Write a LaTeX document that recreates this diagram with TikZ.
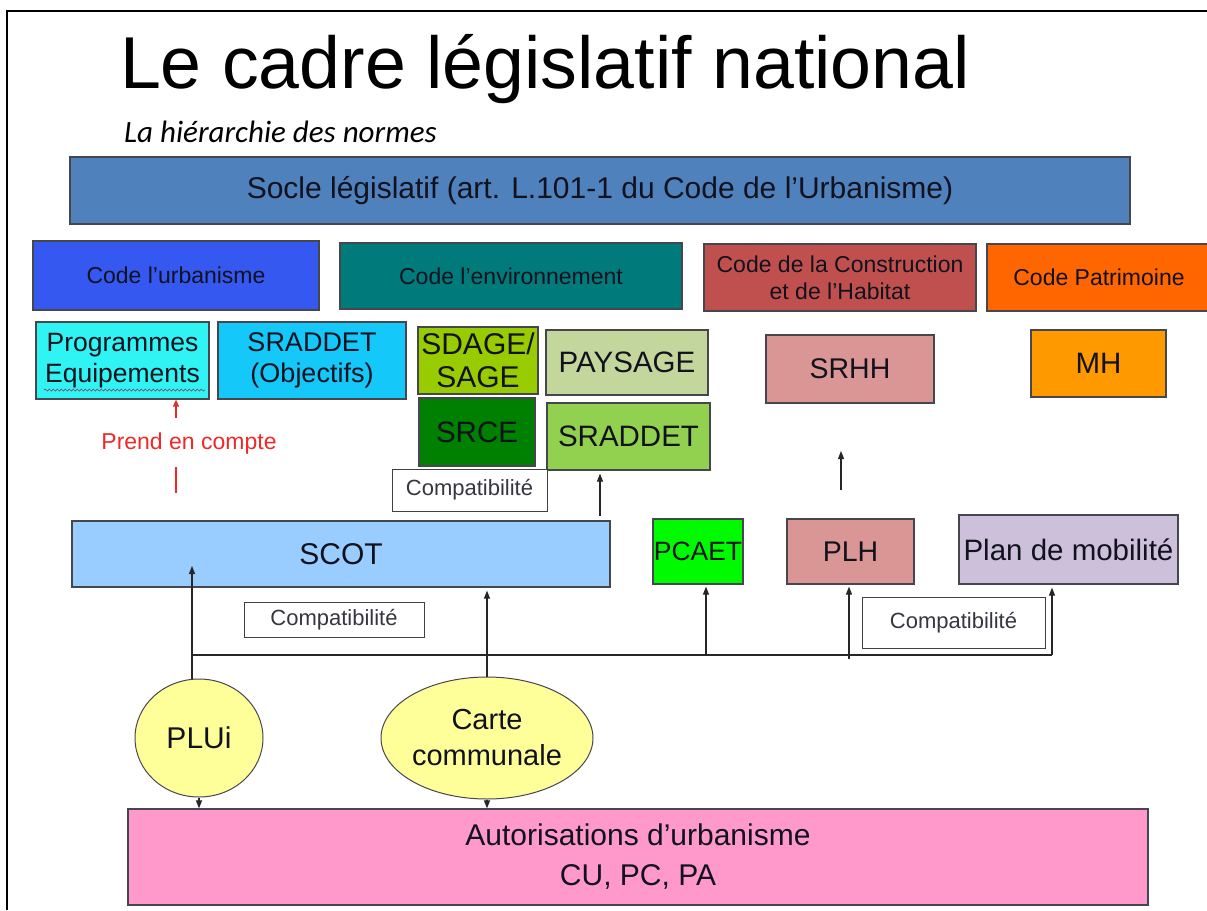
\documentclass[tikz,border=0pt]{standalone}
\usepackage{fontspec}
\setmainfont{Liberation Sans}
\newfontfamily\calib{Carlito}
\usetikzlibrary{arrows.meta,decorations.pathmorphing,shapes.geometric}
\definecolor{txt}{RGB}{18,18,30}
\definecolor{boxline}{RGB}{70,70,78}
\definecolor{cSocle}{RGB}{79,129,189}
\definecolor{cUrb}{RGB}{52,88,240}
\definecolor{cEnv}{RGB}{0,122,122}
\definecolor{cCH}{RGB}{192,80,77}
\definecolor{cPat}{RGB}{255,102,0}
\definecolor{cProg}{RGB}{48,244,244}
\definecolor{cSrObj}{RGB}{20,200,250}
\definecolor{cSdage}{RGB}{153,204,0}
\definecolor{cPays}{RGB}{195,214,155}
\definecolor{cSrce}{RGB}{0,128,0}
\definecolor{cSrad}{RGB}{146,208,80}
\definecolor{cRose}{RGB}{217,150,148}
\definecolor{cMH}{RGB}{255,153,0}
\definecolor{cScot}{RGB}{153,204,255}
\definecolor{cPcaet}{RGB}{0,250,0}
\definecolor{cMob}{RGB}{204,192,218}
\definecolor{cAuto}{RGB}{255,153,204}
\definecolor{cEll}{RGB}{255,255,153}
\definecolor{cRed}{RGB}{240,40,40}
\newcommand\fsz[2]{\fontsize{#1}{#2}\selectfont}
\begin{document}
\begin{tikzpicture}[x=1pt,y=-1pt,
  box/.style={draw=boxline, line width=1.2pt, inner sep=0pt, align=center, text=txt},
  codebox/.style={box, font=\fsz{23}{27}},
  bigbox/.style={box, font=\fsz{29.5}{33}},
  compbox/.style={draw=black!75, line width=1pt, fill=white, inner sep=0pt, text=txt!85, font=\fsz{22}{26}},
  ell/.style={ellipse, draw=boxline, line width=1pt, fill=cEll, inner sep=0pt, align=center, text=txt, font=\fsz{29}{36}},
  arr/.style={-{Triangle[length=8pt,width=6pt]}, line width=1.1pt, draw=black!85},
  conn/.style={line width=1.1pt, draw=black!85},
  redarr/.style={-{Triangle[length=7pt,width=6pt]}, line width=1.3pt, draw=cRed},
]
\useasboundingbox (0,0) rectangle (1207,910);
\fill[white] (0,0) rectangle (1207,910);
\draw[line width=2pt] (7,910) -- (7,11) -- (1207,11);

% titles
\node[font=\fsz{73.5}{80}, anchor=base, text=black, inner sep=0pt] (title) at (545,88) {Le cadre législatif national};
\node[font=\calib\itshape\fsz{31}{34}, anchor=base west, text=black, inner sep=0pt] (sub) at (124,142) {La hiérarchie des normes};

% socle
\node[box, fill=cSocle, minimum width=1060pt, minimum height=67pt, font=\fsz{30}{34}] (socle) at (600,190.5) {Socle législatif (art. L.101-1 du Code de l’Urbanisme)};

% codes
\node[codebox, fill=cUrb, minimum width=286pt, minimum height=69pt] (curb) at (176,275.5) {Code l’urbanisme};
\node[codebox, fill=cEnv, minimum width=342pt, minimum height=66pt] (cenv) at (511,276) {Code l’environnement};
\node[codebox, fill=cCH, minimum width=272pt, minimum height=67pt] (cch) at (840,277.5) {Code de la Construction\\et de l’Habitat};
\node[codebox, fill=cPat, minimum width=224pt, minimum height=67pt] (cpat) at (1099,277.5) {Code Patrimoine};

% second row
\node[box, fill=cProg, minimum width=173pt, minimum height=77pt, font=\fsz{26.5}{31}] (prog) at (122.5,360.5) {Programmes\\Equipements};
\draw[decorate, decoration={snake, amplitude=1pt, segment length=4pt}, draw=blue!40!red!50!gray, line width=0.7pt] (44,390) -- (205,390);
\node[box, fill=cSrObj, minimum width=188pt, minimum height=77pt, font=\fsz{27}{31}] (srobj) at (312,360.5) {SRADDET\\(Objectifs)};
\node[bigbox, fill=cSdage, minimum width=120pt, minimum height=67pt, font=\fsz{30}{33}] (sdage) at (478,360.5) {SDAGE/\\SAGE};
\node[bigbox, fill=cPays, minimum width=162pt, minimum height=65pt] (pays) at (627,362.5) {PAYSAGE};
\node[bigbox, fill=cSrce, minimum width=116pt, minimum height=68pt] (srce) at (477,432) {SRCE};
\node[bigbox, fill=cSrad, minimum width=163pt, minimum height=67pt] (srad) at (628.5,436.5) {SRADDET};
\node[compbox, minimum width=155pt, minimum height=42pt] (comp1) at (469.5,490) {Compatibilité};
\node[bigbox, fill=cRose, minimum width=168pt, minimum height=68pt, font=\fsz{28.5}{33}] (srhh) at (850,369) {SRHH};
\node[bigbox, fill=cMH, minimum width=135pt, minimum height=67pt] (mh) at (1098.5,363.5) {MH};

% prend en compte
\node[font=\fsz{23}{26}, text=cRed, inner sep=0pt] (pec) at (189,444) {Prend en compte};
\coordinate (redA) at (176,418);
\draw[redarr] (redA) -- (redA |- prog.south);
\coordinate (redB) at (176,467);
\coordinate (redC) at (176,493);
\draw[line width=1.3pt, draw=cRed] (redB) -- (redC);

% arrows up to SRADDET and SRHH
\coordinate (aSrad) at (600,516);
\draw[arr] (aSrad) -- ([yshift=-3pt]aSrad |- srad.south);
\coordinate (aSrhh1) at (841,490);
\coordinate (aSrhh2) at (841,451);
\draw[arr] (aSrhh1) -- (aSrhh2);

% third row
\node[bigbox, fill=cScot, minimum width=538pt, minimum height=66pt, font=\fsz{30}{33}] (scot) at (341,554) {SCOT};
\node[bigbox, fill=cPcaet, minimum width=90pt, minimum height=65pt, font=\fsz{26.5}{30}] (pcaet) at (698,551.5) {PCAET};
\node[bigbox, fill=cRose, minimum width=127pt, minimum height=65pt, font=\fsz{28.5}{33}] (plh) at (850.5,551.5) {PLH};
\node[bigbox, fill=cMob, minimum width=219pt, minimum height=69pt] (pmob) at (1068.5,549.5) {Plan de mobilité};
\node[compbox, minimum width=180pt, minimum height=35pt] (comp2) at (334,619.5) {Compatibilité};
\node[compbox, minimum width=183pt, minimum height=51pt] (comp3) at (953.5,622.5) {Compatibilité};

% ellipses and bottom box
\node[ell, minimum width=128pt, minimum height=118pt, font=\fsz{30}{36}] (plui) at (199,738) {PLUi};
\node[ell, minimum width=190pt, minimum height=122pt] (carte) at (487,738) {Carte\\communale};
\node[box, fill=cAuto, minimum width=1020pt, minimum height=96pt, font=\fsz{30}{40}] (auto) at (638,857) {Autorisations d’urbanisme\\CU, PC, PA};

% connectors
\coordinate (hL) at (192,655);
\coordinate (hR) at (1052,655);
\draw[conn] (hL) -- (hR);
\coordinate (scotIn) at (192,566);
\draw[arr] ([xshift=-7pt]plui.north) -- (scotIn);
\draw[arr] (carte.north) -- ([yshift=-3pt]carte.north |- scot.south);
\coordinate (pcB) at (706,655);
\draw[arr] (pcB) -- ([yshift=-2pt]pcB |- pcaet.south);
\coordinate (plB) at (849,659);
\draw[arr] (plB) -- ([yshift=-2pt]plB |- plh.south);
\draw[arr] (hR) -- ([yshift=-3pt]hR |- pmob.south);
\draw[arr] (plui.south) -- (plui.south |- auto.north);
\draw[arr] (carte.south) -- (carte.south |- auto.north);
\end{tikzpicture}
\end{document}
